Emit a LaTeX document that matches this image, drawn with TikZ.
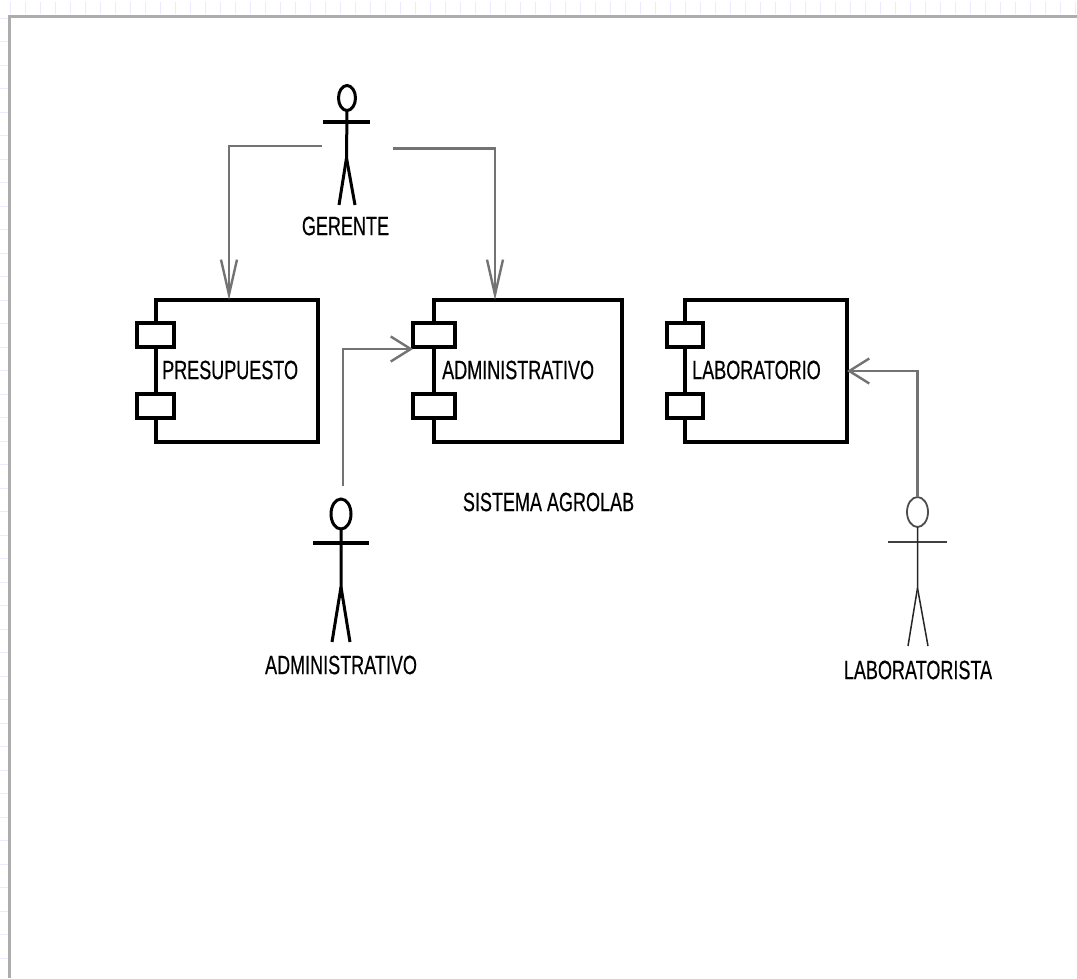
\documentclass[tikz,border=0pt]{standalone}
\usepackage{fontspec}
\newfontfamily\lblfont[FakeStretch=0.68,FakeBold=0.4]{Liberation Sans}
\usetikzlibrary{arrows.meta, positioning, shapes.geometric}
\tikzset{
    lbl/.style={font=\lblfont\fontsize{26.5}{28}\selectfont, inner sep=0pt, text=black},
    compbody/.style={draw, line width=3.5pt, fill=white, outer sep=0pt, minimum height=142pt},
    compport/.style={draw, line width=3.5pt, fill=white, outer sep=0pt, minimum height=24pt},
    conn/.style={draw=black!55, line width=2.8pt},
    connv/.style={conn, ->, >={Straight Barb[length=35pt,width=16pt,line width=2.4pt]}},
    connh/.style={conn, ->, >={Straight Barb[length=20pt,width=25pt,line width=2.4pt]}},
    head/.style={draw, ellipse, inner sep=0pt, outer sep=0pt},
}

\begin{document}
\begin{tikzpicture}[x=1pt, y=-1pt]
        \useasboundingbox (0,0) rectangle (1077,978);
        \def\Py{335} \def\Qy{406} \def\By{371}

        \foreach \i in {0,...,71} \draw[blue!8, line width=1pt] (10+15*\i,2) -- (10+15*\i,14);
        \foreach \i in {0,...,40} \draw[blue!8, line width=1pt] (0,18+23.5*\i) -- (8,18+23.5*\i);
        \draw[black!32, line width=3pt] (1077,16) -- (9.5,16) -- (9.5,978);

        \node[compbody, minimum width=162pt] (presupuesto) at (237,\By) {};
        \node[compport, minimum width=37pt] (presupuestoA) at (155.5,\Py) {};
        \node[compport, minimum width=37pt] (presupuestoB) at (155.5,\Qy) {};
        \node[lbl, anchor=west] (presupuestoLbl) at (162,370) {PRESUPUESTO};

        \node[compbody, minimum width=188pt] (administrativo) at (528,\By) {};
        \node[compport, minimum width=42pt] (administrativoA) at (434,\Py) {};
        \node[compport, minimum width=42pt] (administrativoB) at (434,\Qy) {};
        \node[lbl, anchor=west] (administrativoLbl) at (442,370) {ADMINISTRATIVO};

        \node[compbody, minimum width=162pt] (laboratorio) at (766,\By) {};
        \node[compport, minimum width=36pt] (laboratorioA) at (685,\Py) {};
        \node[compport, minimum width=36pt] (laboratorioB) at (685,\Qy) {};
        \node[lbl, anchor=west] (laboratorioLbl) at (692,370) {LABORATORIO};

        \node[lbl] (sistema) at (548.5,502) {SISTEMA AGROLAB};

        \node[head, line width=3pt, minimum width=17pt, minimum height=25pt] (gerente) at (347,98) {};
        \draw[line width=4pt] (323,122) -- (370,122);
        \draw[line width=3pt] (gerente.south) -- (346.5,158) -- (339,205);
        \draw[line width=3pt] (346.5,158) -- (355,205);
        \node[lbl] (gerenteLbl) at (345.5,226) {GERENTE};
        \coordinate (gerenteL) at (322,146);
        \coordinate (gerenteR) at (393,148.5);

        \node[head, line width=3pt, minimum width=20pt, minimum height=30pt] (admin) at (341,514) {};
        \draw[line width=4pt] (313,543) -- (369,543);
        \draw[line width=3pt] (admin.south) -- (341,587) -- (332,642);
        \draw[line width=3pt] (341,587) -- (350,642);
        \node[lbl] (adminLbl) at (341,665) {ADMINISTRATIVO};
        \coordinate (adminT) at (343,486);

        \node[head, draw=black!70, line width=1.8pt, minimum width=21pt, minimum height=30pt] (labor) at (917.5,512) {};
        \draw[black!75, line width=2pt] (888,542) -- (947,542);
        \draw[black!85, line width=1.5pt] (labor.south) -- (917.5,588) -- (908,646);
        \draw[black!85, line width=1.5pt] (917.5,588) -- (928,646);
        \node[lbl] (laborLbl) at (918,670) {LABORATORISTA};

        \draw[connv] (gerenteL) -| ([xshift=73pt]presupuesto.north west);
        \draw[connv] (gerenteR) -| ([xshift=61pt]administrativo.north west);
        \draw[connh] (adminT) |- ([yshift=-2pt]administrativoA.south west);
        \draw[connh] (labor.north) |- (laboratorio.east);
    \end{tikzpicture}
\end{document}
